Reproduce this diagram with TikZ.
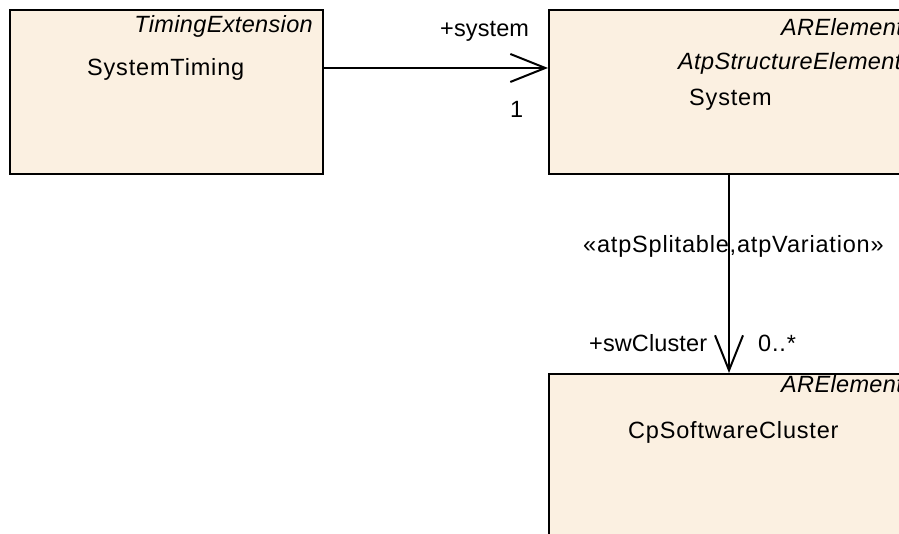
\documentclass[tikz,border=0pt]{standalone}
\usepackage{fontspec}
\setmainfont{Liberation Sans}[LetterSpace=3.5]
\newfontfamily\itfam{Liberation Sans Italic}[LetterSpace=1.5]
\newfontfamily\tightfam{Liberation Sans}[LetterSpace=0.5]
\usetikzlibrary{arrows.meta}
\definecolor{boxfill}{RGB}{251,240,225}
\tikzset{
  classbox/.style={draw=black, line width=2pt, fill=boxfill, rectangle, inner sep=0pt, anchor=north west},
  txt/.style={inner sep=0pt, font=\fontsize{23.5}{28}\selectfont},
  ttxt/.style={inner sep=0pt, font=\fontsize{23.5}{28}\tightfam},
  itxt/.style={inner sep=0pt, font=\fontsize{23.5}{28}\itfam},
  assoc/.style={line width=2pt, -{Straight Barb[length=35pt,width=28pt,line width=2pt]}}
}
\begin{document}
\begin{tikzpicture}[x=1pt,y=-1pt]
\useasboundingbox (0,0) rectangle (899,534);
\clip (0,0) rectangle (899,534);
% boxes
\node[classbox, minimum width=313pt, minimum height=164pt] (timing) at (9,9) {};
\node[classbox, minimum width=362pt, minimum height=164pt] (system) at (548,9) {};
\node[classbox, minimum width=362pt, minimum height=180pt] (cluster) at (548,373) {};
% box texts
\node[itxt, anchor=base east] (t1s) at (313,33) {TimingExtension};
\node[txt, anchor=base west] (t1n) at (87,76) {SystemTiming};
\node[itxt, anchor=base west] (t2s1) at (781,36) {ARElement};
\node[itxt, anchor=base west] (t2s2) at (678,70) {AtpStructureElement};
\node[txt, anchor=base west] (t2n) at (689,106) {System};
\node[itxt, anchor=base west] (t3s) at (781,392) {ARElement};
\node[txt, anchor=base west] (t3n) at (628,438) {CpSoftwareCluster};
% connectors
\coordinate (a1) at (322,68);
\coordinate (a2) at (548,68);
\draw[assoc] (a1) -- (a2);
\coordinate (b1) at (729,173);
\coordinate (b2) at (729,373);
\draw[assoc] (b1) -- (b2);
% connector labels
\node[ttxt, anchor=base west] (l1) at (440,37) {+system};
\node[txt, anchor=base west] (l2) at (510,118) {1};
\node[txt, anchor=base west] (l3) at (583,253) {«atpSplitable,atpVariation»};
\node[ttxt, anchor=base west] (l4) at (589,352) {+swCluster};
\node[txt, anchor=base west] (l5) at (758,352) {0..*};
\end{tikzpicture}
\end{document}
